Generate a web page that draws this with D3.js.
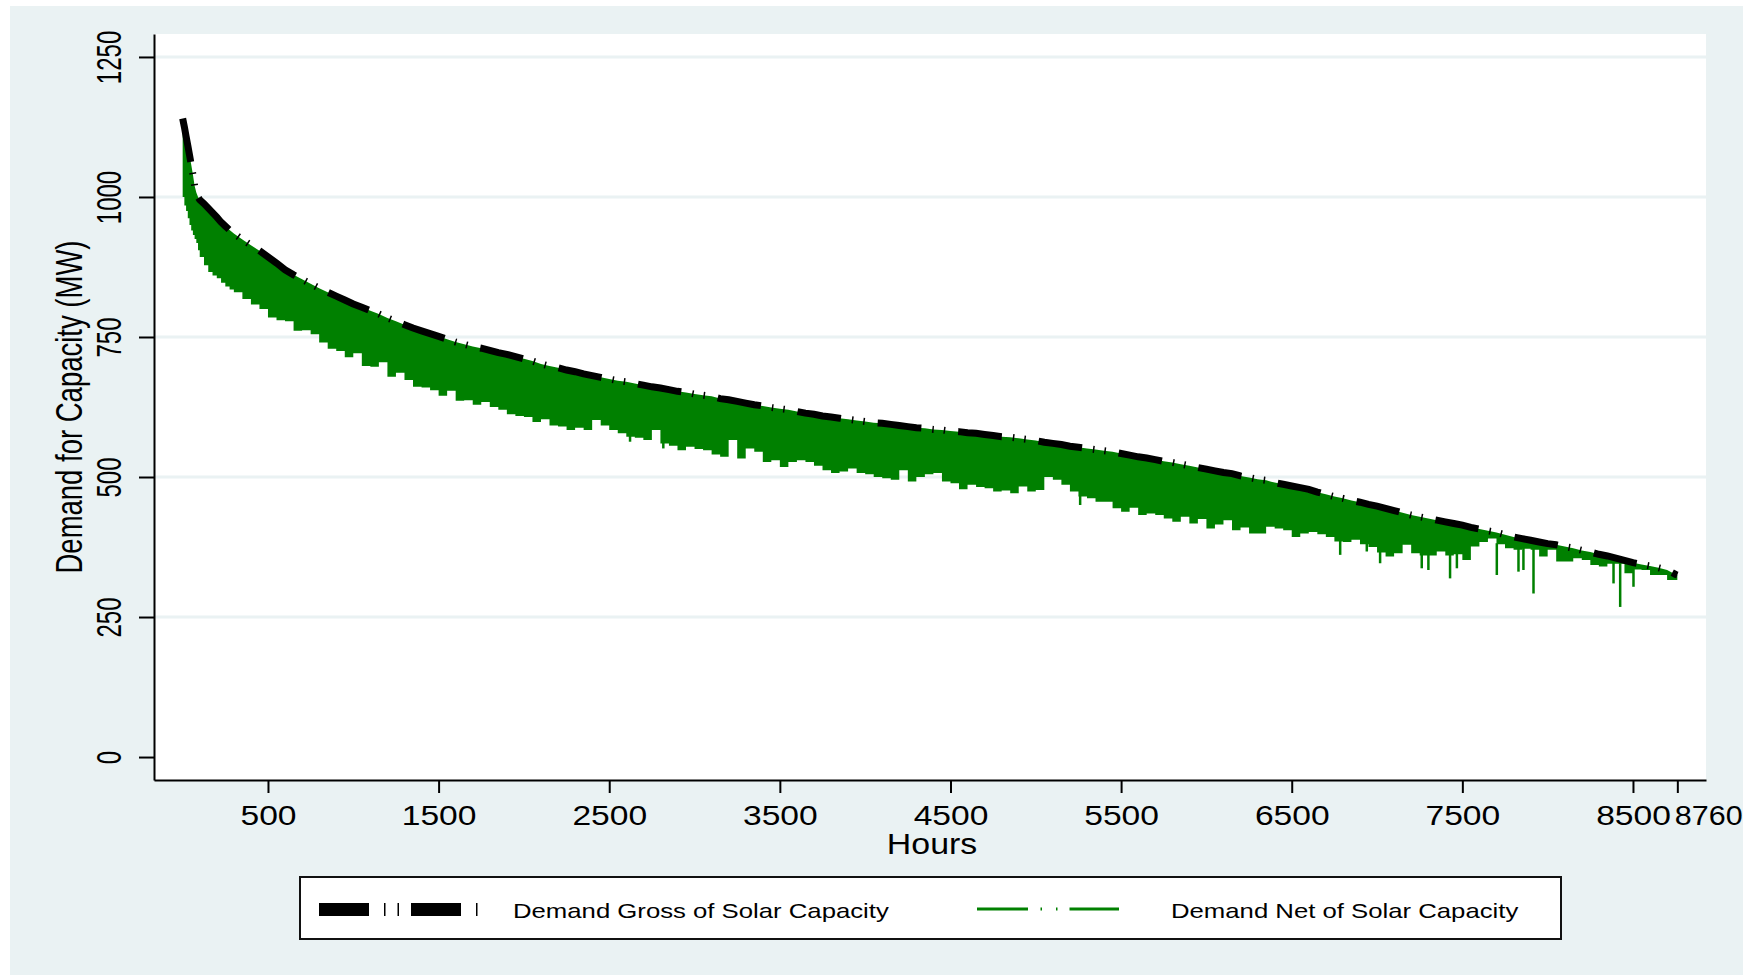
<!DOCTYPE html>
<html>
<head>
<meta charset="utf-8">
<script src="https://cdn.jsdelivr.net/npm/d3@7"></script>
<style>
  body { margin: 0; background: #fff; }
  svg { display: block; font-family: "Liberation Sans", Arial, sans-serif; }
</style>
</head>
<body>
<div class="duration-plot"></div>
<script>

// hours of the year, sorted by gross demand (load duration curve)
const hours = [
  0, 10, 20, 30, 40, 50, 60, 70, 80, 90, 100, 125, 150, 175, 200, 225, 250, 275,
  300, 350, 400, 450, 500, 550, 600, 650, 700, 750,
  800, 850, 900, 950, 1000, 1050, 1100, 1150, 1200, 1250,
  1300, 1350, 1400, 1450, 1500, 1550, 1600, 1650, 1700, 1750,
  1800, 1850, 1900, 1950, 2000, 2050, 2100, 2150, 2200, 2250,
  2300, 2350, 2400, 2450, 2500, 2550, 2600, 2650, 2700, 2750,
  2800, 2850, 2900, 2950, 3000, 3050, 3100, 3150, 3200, 3250,
  3300, 3350, 3400, 3450, 3500, 3550, 3600, 3650, 3700, 3750,
  3800, 3850, 3900, 3950, 4000, 4050, 4100, 4150, 4200, 4250,
  4300, 4350, 4400, 4450, 4500, 4550, 4600, 4650, 4700, 4750,
  4800, 4850, 4900, 4950, 5000, 5050, 5100, 5150, 5200, 5250,
  5300, 5350, 5400, 5450, 5500, 5550, 5600, 5650, 5700, 5750,
  5800, 5850, 5900, 5950, 6000, 6050, 6100, 6150, 6200, 6250,
  6300, 6350, 6400, 6450, 6500, 6550, 6600, 6650, 6700, 6750,
  6800, 6850, 6900, 6950, 7000, 7050, 7100, 7150, 7200, 7250,
  7300, 7350, 7400, 7450, 7500, 7550, 7600, 7650, 7700, 7750,
  7800, 7850, 7900, 7950, 8000, 8050, 8100, 8150, 8200, 8250,
  8300, 8350, 8400, 8450, 8500, 8550, 8600, 8650, 8700, 8750,
  8760
];

// demand gross of solar (MW)
const gross = [
  1140, 1125, 1108, 1092, 1075, 1058, 1040, 1020, 1008, 1000, 995, 988, 980, 972, 964, 955, 948, 941,
  935, 924, 914, 904, 893, 882, 870, 861, 853, 845,
  837, 830, 823, 816, 809, 803, 797, 791, 784, 778,
  772, 766, 761, 756, 751, 746, 741, 737, 733, 730,
  726, 722, 719, 715, 711, 707, 702, 698, 695, 691,
  688, 684, 681, 678, 675, 672, 670, 667, 664, 661,
  659, 656, 653, 651, 648, 646, 644, 640, 638, 635,
  632, 629, 627, 624, 622, 620, 617, 614, 612, 609,
  607, 605, 603, 601, 599, 597, 596, 594, 592, 590,
  588, 587, 585, 584, 582, 581, 579, 578, 576, 574,
  572, 571, 569, 567, 565, 562, 560, 558, 555, 553,
  551, 549, 547, 545, 542, 539, 536, 534, 531, 528,
  526, 523, 520, 517, 514, 511, 508, 506, 502, 499,
  496, 494, 490, 487, 484, 481, 478, 473, 469, 465,
  462, 458, 455, 451, 448, 444, 440, 436, 432, 429,
  426, 423, 420, 417, 414, 410, 407, 404, 401, 397,
  393, 390, 387, 384, 381, 379, 376, 373, 369, 366,
  362, 359, 355, 351, 347, 344, 341, 338, 334, 326,
  325
];

// lowest demand net of solar within each hour block (MW)
const netLow = [
  1000, 985, 975, 962, 950, 940, 932, 925, 918, 905, 893, 878, 866, 860, 855, 847, 840, 835,
  830, 818, 808, 800, 785, 780, 778, 761, 762, 755,
  740, 729, 725, 714, 721, 698, 697, 705, 679, 686,
  673, 661, 660, 655, 645, 654, 636, 637, 629, 634,
  625, 620, 612, 609, 607, 598, 603, 592, 590, 584,
  588, 584, 602, 592, 584, 578, 572, 570, 566, 584,
  560, 556, 548, 554, 550, 548, 540, 536, 566, 533,
  551, 545, 527, 530, 518, 527, 530, 527, 520, 512,
  507, 510, 515, 507, 505, 500, 498, 495, 512, 492,
  500, 505, 507, 492, 489, 478, 486, 482, 480, 474,
  476, 471, 483, 474, 477, 500, 495, 486, 474, 465,
  462, 456, 456, 444, 438, 445, 432, 435, 432, 426,
  420, 429, 417, 425, 408, 415, 423, 405, 410, 399,
  399, 411, 408, 405, 393, 399, 402, 398, 393, 385,
  384, 388, 380, 375, 365, 358, 364, 379, 364, 360,
  360, 367, 360, 362, 352, 376, 384, 390, 380, 373,
  370, 372, 370, 358, 370, 349, 349, 355, 352, 343,
  340, 345, 345, 328, 335, 334, 325, 325, 316, 316,
  316
];

// single deep dips of the net series
const spikeHours = [2622, 2817, 5260, 6784, 6940, 7018, 7262, 7301, 7428, 7468, 7702, 7829, 7858, 7917, 8386, 8425, 8503];
const spikeLows  = [563, 551, 450, 361, 367, 346, 337, 334, 319, 337, 325, 331, 334, 292, 310, 268, 304];

const yTicks = [0, 250, 500, 750, 1000, 1250];
const xTicks = [500, 1500, 2500, 3500, 4500, 5500, 6500, 7500, 8500, 8760];
const legendLabels = ['Demand Gross of Solar Capacity', 'Demand Net of Solar Capacity'];

const width = 1753;
const height = 979;
const green = '#008000';

const svg = d3
  .select('.duration-plot')
  .append('svg')
  .attr('width', width)
  .attr('height', height);

// outer background and plot region
svg.append('rect')
  .attr('x', 10).attr('y', 6)
  .attr('width', 1733).attr('height', 969)
  .attr('fill', '#eaf2f3');

svg.append('rect')
  .attr('x', 154).attr('y', 34)
  .attr('width', 1552).attr('height', 746)
  .attr('fill', '#fff');

const x = d3.scaleLinear().domain([-168, 8928]).range([154, 1706]);
const y = d3.scaleLinear().domain([-41, 1291]).range([780, 34]);

// gridlines
svg.selectAll('.grid')
  .data(yTicks.filter(d => d > 0))
  .enter()
  .append('line')
  .attr('class', 'grid')
  .attr('x1', 154).attr('x2', 1706)
  .attr('y1', d => y(d)).attr('y2', d => y(d))
  .attr('stroke', '#eaf2f3')
  .attr('stroke-width', 3);

const rows = hours.map((h, i) => ({h: h, g: gross[i], n: netLow[i]}));

// net series: filled band from gross down to the jagged lows
const topLine = d3.line().x(d => x(d.h)).y(d => y(d.g));
const lowLine = d3.line().x(d => x(d.h)).y(d => y(d.n)).curve(d3.curveStepBefore);
const bandPath = topLine(rows) + 'L' + lowLine(rows.slice().reverse()).slice(1) + 'Z';

svg.append('path')
  .attr('d', bandPath)
  .attr('fill', green);

svg.selectAll('.spike')
  .data(spikeHours)
  .enter()
  .append('line')
  .attr('class', 'spike')
  .attr('x1', d => x(d)).attr('x2', d => x(d))
  .attr('y1', d => y(netLow[d3.bisectRight(hours, d) - 1]) - 1)
  .attr('y2', (d, i) => y(spikeLows[i]))
  .attr('stroke', green)
  .attr('stroke-width', 2.5);

// gross series, dashed black
svg.append('path')
  .datum(rows)
  .attr('d', d3.line().x(d => x(d.h)).y(d => y(d.g)))
  .attr('fill', 'none')
  .attr('stroke', '#000')
  .attr('stroke-width', 7)
  .attr('stroke-dasharray', '44,11,1.5,10,1.5,13');

// y axis
const yAxis = svg.append('g')
  .attr('transform', 'translate(154,0)')
  .call(d3.axisLeft(y).tickValues(yTicks).tickSize(15).tickSizeOuter(0).tickFormat(d3.format('d')));

yAxis.attr('font-family', null).attr('font-size', 24);
yAxis.select('.domain').attr('stroke', '#000').attr('stroke-width', 2);
yAxis.selectAll('.tick line').attr('stroke', '#000').attr('stroke-width', 2);
yAxis.selectAll('.tick text')
  .attr('x', null)
  .attr('dy', null)
  .attr('fill', '#000')
  .attr('text-anchor', 'middle')
  .attr('transform', 'translate(-33,0) rotate(-90) scale(1,1.5)');

// x axis
const xAxis = svg.append('g')
  .attr('transform', 'translate(0,780)')
  .call(d3.axisBottom(x).tickValues(xTicks).tickSize(13).tickSizeOuter(0).tickFormat(d3.format('d')));

xAxis.attr('font-family', null).attr('font-size', 28);
xAxis.select('.domain').attr('stroke', '#000').attr('stroke-width', 2);
xAxis.selectAll('.tick line').attr('stroke', '#000').attr('stroke-width', 2);
xAxis.selectAll('.tick text')
  .attr('y', null)
  .attr('dy', null)
  .attr('fill', '#000')
  .attr('text-anchor', d => d === 8760 ? 'start' : 'middle')
  .attr('transform', d => d === 8760 ? 'translate(-3,45) scale(1.09,1)' : 'translate(0,45) scale(1.2,1)');

// axis titles
svg.append('text')
  .text('Hours')
  .attr('transform', 'translate(932,854) scale(1.13,1)')
  .attr('text-anchor', 'middle')
  .attr('font-size', 30);

svg.append('text')
  .text('Demand for Capacity (MW)')
  .attr('transform', 'translate(82,407) rotate(-90) scale(1,1.37)')
  .attr('text-anchor', 'middle')
  .attr('font-size', 27.5);

// legend
svg.append('rect')
  .attr('x', 300).attr('y', 877)
  .attr('width', 1261).attr('height', 62)
  .attr('fill', '#fff')
  .attr('stroke', '#111')
  .attr('stroke-width', 2);

svg.append('line')
  .attr('x1', 319).attr('x2', 478)
  .attr('y1', 909.5).attr('y2', 909.5)
  .attr('stroke', '#000')
  .attr('stroke-width', 13)
  .attr('stroke-dasharray', '50,15,1.5,12,1.5,12');

svg.append('line')
  .attr('x1', 977).attr('x2', 1119)
  .attr('y1', 909).attr('y2', 909)
  .attr('stroke', green)
  .attr('stroke-width', 3)
  .attr('stroke-dasharray', '51,12.5,1.5,14,1.5,12');

svg.selectAll('.legend-label')
  .data(legendLabels)
  .enter()
  .append('text')
  .attr('class', 'legend-label')
  .text(d => d)
  .attr('transform', (d, i) => 'translate(' + (i === 0 ? 513 : 1171) + ',918) scale(1.225,1)')
  .attr('font-size', 21);

</script>
</body>
</html>
